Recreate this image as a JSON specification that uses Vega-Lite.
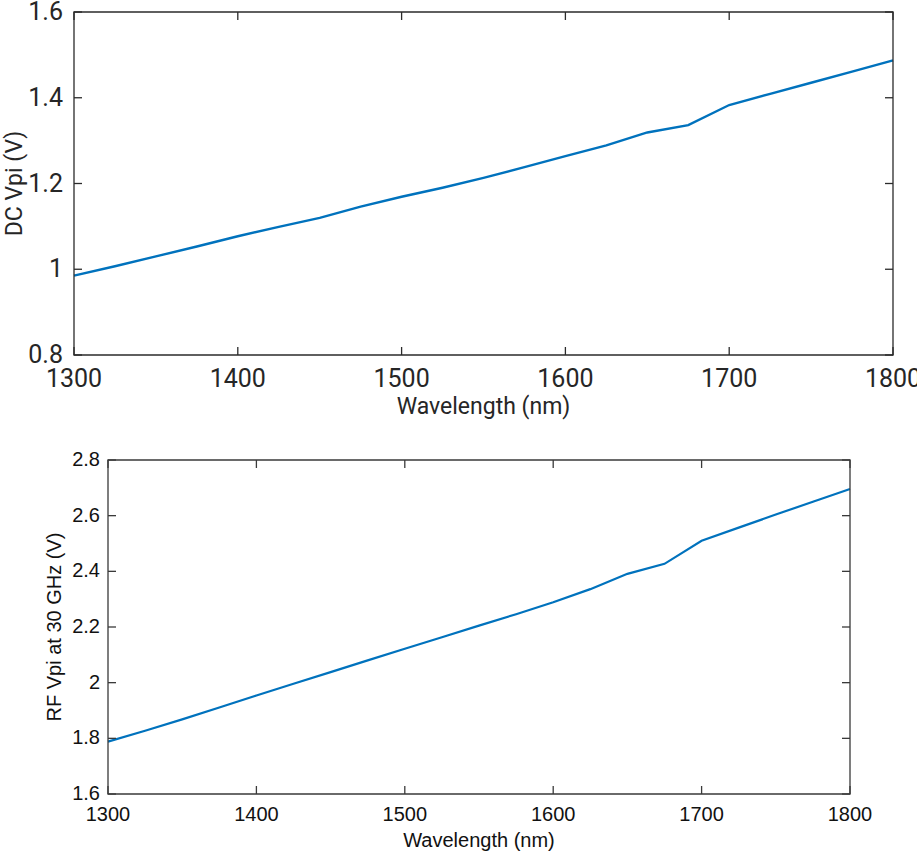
{
  "$schema": "https://vega.github.io/schema/vega-lite/v6.json",
  "autosize": "none",
  "width": 819,
  "height": 782,
  "padding": {"left": 74, "top": 12, "right": 24, "bottom": 61},
  "background": "white",
  "view": {"stroke": null},
  "resolve": {"scale": {"x": "independent", "y": "independent"}},
  "layer": [
    {
      "layer": [
        {
          "data": {"values": [
            {"wl": 1300, "v": 0.985}, {"wl": 1325, "v": 1.007}, {"wl": 1350, "v": 1.030}, {"wl": 1375, "v": 1.053},
            {"wl": 1400, "v": 1.077}, {"wl": 1425, "v": 1.099}, {"wl": 1450, "v": 1.120}, {"wl": 1475, "v": 1.146},
            {"wl": 1500, "v": 1.169}, {"wl": 1525, "v": 1.190}, {"wl": 1550, "v": 1.213}, {"wl": 1575, "v": 1.238},
            {"wl": 1600, "v": 1.264}, {"wl": 1625, "v": 1.289}, {"wl": 1650, "v": 1.319}, {"wl": 1675, "v": 1.336},
            {"wl": 1700, "v": 1.383}, {"wl": 1725, "v": 1.409}, {"wl": 1750, "v": 1.435}, {"wl": 1775, "v": 1.461},
            {"wl": 1800, "v": 1.487}
          ]},
          "mark": {"type": "line", "color": "#0072BD", "strokeWidth": 2.4},
          "encoding": {
            "x": {"field": "wl", "type": "quantitative", "axis": null,
              "scale": {"domain": [1300, 1800], "range": [0, 819], "nice": false, "zero": false}},
            "y": {"field": "v", "type": "quantitative", "axis": null,
              "scale": {"domain": [0.8, 1.6], "range": [343, 0], "nice": false, "zero": false}}
          }
        },
        {
          "data": {"values": [{"box": "top"}]},
          "mark": {"type": "rect", "filled": false, "stroke": "#2b2b2b", "strokeWidth": 1.3},
          "encoding": {
            "x": {"datum": 1300, "type": "quantitative", "axis": null}, "x2": {"datum": 1800},
            "y": {"datum": 0.8, "type": "quantitative", "axis": null}, "y2": {"datum": 1.6}
          }
        },
        {
          "data": {"values": [{"t": 1300}, {"t": 1400}, {"t": 1500}, {"t": 1600}, {"t": 1700}, {"t": 1800}]},
          "layer": [
            {
              "mark": {"type": "rule", "color": "#2b2b2b", "strokeWidth": 1.3},
              "encoding": {
                "x": {"field": "t", "type": "quantitative", "axis": null},
                "y": {"datum": 0.8, "type": "quantitative", "axis": null}, "y2": {"datum": 0.8187}
              }
            },
            {
              "mark": {"type": "rule", "color": "#2b2b2b", "strokeWidth": 1.3},
              "encoding": {
                "x": {"field": "t", "type": "quantitative", "axis": null},
                "y": {"datum": 1.6, "type": "quantitative", "axis": null}, "y2": {"datum": 1.5813}
              }
            },
            {
              "mark": {"type": "text", "baseline": "top", "align": "center", "dy": 12, "font": "Roboto", "fontSize": 25, "color": "#262626"},
              "encoding": {
                "x": {"field": "t", "type": "quantitative", "axis": null},
                "y": {"datum": 0.8, "type": "quantitative", "axis": null},
                "text": {"field": "t", "type": "quantitative", "format": "d"}
              }
            }
          ]
        },
        {
          "data": {"values": [{"t": 0.8}, {"t": 1.0}, {"t": 1.2}, {"t": 1.4}, {"t": 1.6}]},
          "layer": [
            {
              "mark": {"type": "rule", "color": "#2b2b2b", "strokeWidth": 1.3},
              "encoding": {
                "y": {"field": "t", "type": "quantitative", "axis": null},
                "x": {"datum": 1300, "type": "quantitative", "axis": null}, "x2": {"datum": 1304.9}
              }
            },
            {
              "mark": {"type": "rule", "color": "#2b2b2b", "strokeWidth": 1.3},
              "encoding": {
                "y": {"field": "t", "type": "quantitative", "axis": null},
                "x": {"datum": 1800, "type": "quantitative", "axis": null}, "x2": {"datum": 1795.1}
              }
            },
            {
              "mark": {"type": "text", "baseline": "middle", "align": "right", "dx": -11, "font": "Roboto", "fontSize": 25, "color": "#262626"},
              "encoding": {
                "y": {"field": "t", "type": "quantitative", "axis": null},
                "x": {"datum": 1300, "type": "quantitative", "axis": null},
                "text": {"field": "t", "type": "quantitative", "format": "~g"}
              }
            }
          ]
        },
        {
          "data": {"values": [{"label": "Wavelength (nm)"}]},
          "mark": {"type": "text", "baseline": "middle", "align": "center", "font": "Roboto", "fontSize": 23, "color": "#262626"},
          "encoding": {
            "x": {"datum": 1550, "type": "quantitative", "axis": null},
            "y": {"datum": 0.679, "type": "quantitative", "axis": null},
            "text": {"field": "label"}
          }
        },
        {
          "data": {"values": [{"label": "DC Vpi (V)"}]},
          "mark": {"type": "text", "baseline": "middle", "align": "center", "angle": 270, "font": "Roboto", "fontSize": 23, "color": "#262626"},
          "encoding": {
            "x": {"datum": 1264, "type": "quantitative", "axis": null},
            "y": {"datum": 1.2, "type": "quantitative", "axis": null},
            "text": {"field": "label"}
          }
        }
      ]
    },
    {
      "layer": [
        {
          "data": {"values": [
            {"wl": 1300, "v": 1.788}, {"wl": 1325, "v": 1.827}, {"wl": 1350, "v": 1.868}, {"wl": 1375, "v": 1.911},
            {"wl": 1400, "v": 1.954}, {"wl": 1425, "v": 1.996}, {"wl": 1450, "v": 2.038}, {"wl": 1475, "v": 2.080},
            {"wl": 1500, "v": 2.122}, {"wl": 1525, "v": 2.163}, {"wl": 1550, "v": 2.205}, {"wl": 1575, "v": 2.246},
            {"wl": 1600, "v": 2.289}, {"wl": 1625, "v": 2.336}, {"wl": 1650, "v": 2.391}, {"wl": 1675, "v": 2.427},
            {"wl": 1700, "v": 2.510}, {"wl": 1725, "v": 2.557}, {"wl": 1750, "v": 2.604}, {"wl": 1775, "v": 2.650},
            {"wl": 1800, "v": 2.696}
          ]},
          "mark": {"type": "line", "color": "#0072BD", "strokeWidth": 2.2},
          "encoding": {
            "x": {"field": "wl", "type": "quantitative", "axis": null,
              "scale": {"domain": [1300, 1800], "range": [34, 776], "nice": false, "zero": false}},
            "y": {"field": "v", "type": "quantitative", "axis": null,
              "scale": {"domain": [1.6, 2.8], "range": [782, 448], "nice": false, "zero": false}}
          }
        },
        {
          "data": {"values": [{"box": "bottom"}]},
          "mark": {"type": "rect", "filled": false, "stroke": "#3a3a3a", "strokeWidth": 1.3},
          "encoding": {
            "x": {"datum": 1300, "type": "quantitative", "axis": null}, "x2": {"datum": 1800},
            "y": {"datum": 1.6, "type": "quantitative", "axis": null}, "y2": {"datum": 2.8}
          }
        },
        {
          "data": {"values": [{"t": 1300}, {"t": 1400}, {"t": 1500}, {"t": 1600}, {"t": 1700}, {"t": 1800}]},
          "layer": [
            {
              "mark": {"type": "rule", "color": "#3a3a3a", "strokeWidth": 1.3},
              "encoding": {
                "x": {"field": "t", "type": "quantitative", "axis": null},
                "y": {"datum": 1.6, "type": "quantitative", "axis": null}, "y2": {"datum": 1.6287}
              }
            },
            {
              "mark": {"type": "rule", "color": "#3a3a3a", "strokeWidth": 1.3},
              "encoding": {
                "x": {"field": "t", "type": "quantitative", "axis": null},
                "y": {"datum": 2.8, "type": "quantitative", "axis": null}, "y2": {"datum": 2.7713}
              }
            },
            {
              "mark": {"type": "text", "baseline": "top", "align": "center", "dy": 11, "font": "Liberation Sans", "fontSize": 20, "color": "#111111"},
              "encoding": {
                "x": {"field": "t", "type": "quantitative", "axis": null},
                "y": {"datum": 1.6, "type": "quantitative", "axis": null},
                "text": {"field": "t", "type": "quantitative", "format": "d"}
              }
            }
          ]
        },
        {
          "data": {"values": [{"t": 1.6}, {"t": 1.8}, {"t": 2.0}, {"t": 2.2}, {"t": 2.4}, {"t": 2.6}, {"t": 2.8}]},
          "layer": [
            {
              "mark": {"type": "rule", "color": "#3a3a3a", "strokeWidth": 1.3},
              "encoding": {
                "y": {"field": "t", "type": "quantitative", "axis": null},
                "x": {"datum": 1300, "type": "quantitative", "axis": null}, "x2": {"datum": 1305.4}
              }
            },
            {
              "mark": {"type": "rule", "color": "#3a3a3a", "strokeWidth": 1.3},
              "encoding": {
                "y": {"field": "t", "type": "quantitative", "axis": null},
                "x": {"datum": 1800, "type": "quantitative", "axis": null}, "x2": {"datum": 1794.6}
              }
            },
            {
              "mark": {"type": "text", "baseline": "middle", "align": "right", "dx": -8, "font": "Liberation Sans", "fontSize": 20, "color": "#111111"},
              "encoding": {
                "y": {"field": "t", "type": "quantitative", "axis": null},
                "x": {"datum": 1300, "type": "quantitative", "axis": null},
                "text": {"field": "t", "type": "quantitative", "format": "~g"}
              }
            }
          ]
        },
        {
          "data": {"values": [{"label": "Wavelength (nm)"}]},
          "mark": {"type": "text", "baseline": "middle", "align": "center", "font": "Liberation Sans", "fontSize": 20, "color": "#111111"},
          "encoding": {
            "x": {"datum": 1550, "type": "quantitative", "axis": null},
            "y": {"datum": 1.431, "type": "quantitative", "axis": null},
            "text": {"field": "label"}
          }
        },
        {
          "data": {"values": [{"label": "RF Vpi at 30 GHz (V)"}]},
          "mark": {"type": "text", "baseline": "middle", "align": "center", "angle": 270, "font": "Liberation Sans", "fontSize": 20, "color": "#111111"},
          "encoding": {
            "x": {"datum": 1264.3, "type": "quantitative", "axis": null},
            "y": {"datum": 2.2, "type": "quantitative", "axis": null},
            "text": {"field": "label"}
          }
        },
        {
          "data": {"values": [{"wl": 1550, "v": 2.195}]},
          "mark": {"type": "point", "shape": "star", "filled": true, "fill": "#FBDD8A", "stroke": "#1c2a4e", "strokeWidth": 1.6, "size": 1150, "opacity": 1},
          "encoding": {
            "x": {"field": "wl", "type": "quantitative", "axis": null},
            "y": {"field": "v", "type": "quantitative", "axis": null}
          }
        },
        {
          "data": {"values": [{"wl": 1665, "v": 1.773}]},
          "mark": {"type": "point", "shape": "star", "filled": true, "fill": "#FBDD8A", "stroke": "#1c2a4e", "strokeWidth": 1.6, "size": 1250, "opacity": 1},
          "encoding": {
            "x": {"field": "wl", "type": "quantitative", "axis": null},
            "y": {"field": "v", "type": "quantitative", "axis": null}
          }
        },
        {
          "data": {"values": [{"wl": 1687, "v": 1.773, "label": "measured"}]},
          "mark": {"type": "text", "align": "left", "baseline": "middle", "font": "Open Sans", "fontSize": 24, "color": "#111111"},
          "encoding": {
            "x": {"field": "wl", "type": "quantitative", "axis": null},
            "y": {"field": "v", "type": "quantitative", "axis": null},
            "text": {"field": "label"}
          }
        }
      ]
    }
  ]
}
